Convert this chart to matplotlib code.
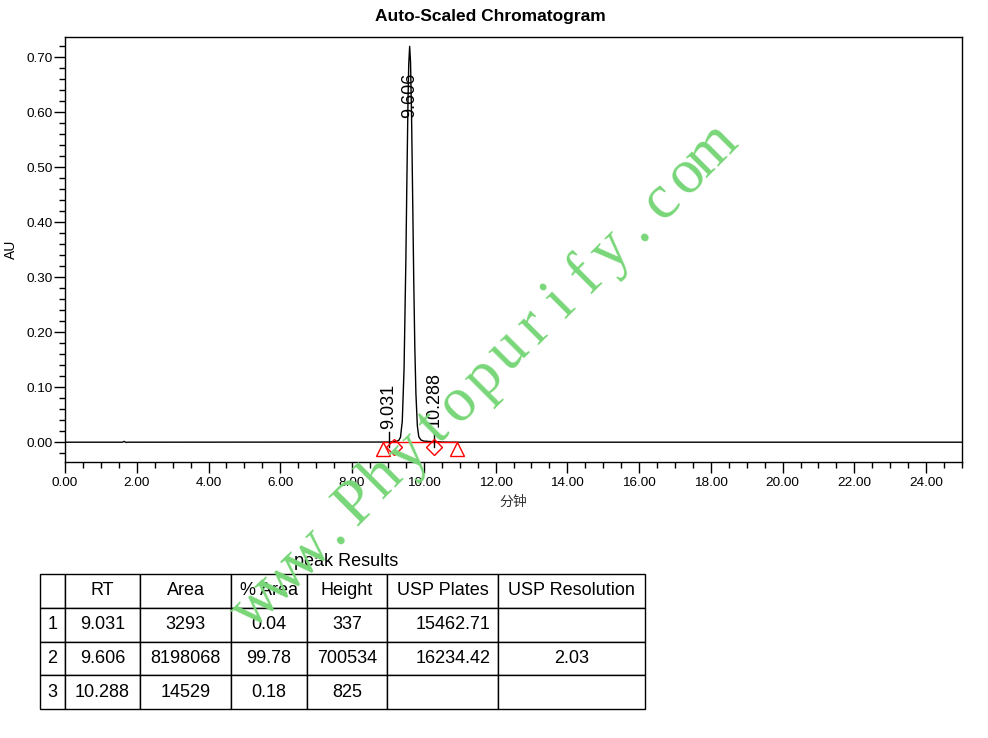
import math
import matplotlib
matplotlib.use("Agg")
import matplotlib.pyplot as plt
from matplotlib.ticker import MultipleLocator, FormatStrFormatter
from matplotlib.table import Table

plt.rcParams["font.family"] = ["Liberation Sans", "Noto Sans CJK SC", "DejaVu Sans"]

# Detector trace (minutes, AU)
time_min = [0.0, 1.60, 1.65, 1.70, 1.75, 9.00, 9.20, 9.30, 9.35, 9.40, 9.45, 9.50,
            9.53, 9.56, 9.58, 9.606, 9.63, 9.66, 9.69, 9.72, 9.75, 9.78, 9.82,
            9.86, 9.92, 10.00, 10.288, 10.60, 11.00, 25.0]
absorbance_au = [0.0, 0.0, 0.0015, -0.0004, 0.0, 0.0003, 0.001, 0.003, 0.009, 0.038,
                 0.134, 0.331, 0.483, 0.622, 0.687, 0.720, 0.692, 0.588, 0.442,
                 0.293, 0.171, 0.089, 0.030, 0.010, 0.004, 0.002, 0.0008, 0.0002,
                 0.0, 0.0]

# Integration events
baseline_start_end = [8.856, 10.92]
peak_boundaries = [9.18, 10.285]

# Peak annotations
peak_labels = ["9.031", "9.606", "10.288"]
peak_rt = [9.031, 9.606, 10.288]

# Peak results table
col_headers = ["", "RT", "Area", "% Area", "Height", "USP Plates", "USP Resolution"]
row_ids = ["1", "2", "3"]
rt_col = ["9.031", "9.606", "10.288"]
area_col = ["3293", "8198068", "14529"]
pct_area_col = ["0.04", "99.78", "0.18"]
height_col = ["337", "700534", "825"]
plates_col = ["15462.71", "16234.42", ""]
resolution_col = ["", "2.03", ""]

watermark = "www.Phytopurify.com"

W, H = 988, 738
fig = plt.figure(figsize=(W / 100, H / 100), dpi=100)

ax = fig.add_axes([65 / W, 1 - 462 / H, (962 - 65) / W, (462 - 37) / H])
ax.plot(time_min, absorbance_au, color="black", lw=1.0, zorder=3)

# integration baseline and markers
ax.plot(baseline_start_end, [0, 0], color="red", lw=1.0, zorder=4)
ax.plot(baseline_start_end, [-0.012] * 2, ls="none", marker="^", ms=9.4,
        mfc="none", mec="red", mew=1.0, zorder=5)
ax.plot(peak_boundaries, [-0.0085] * 2, ls="none", marker="D", ms=8.5,
        mfc="none", mec="red", mew=1.0, zorder=5)

# retention time labels
for lbl, rt in zip(peak_labels, peak_rt):
    if lbl == "9.606":
        ax.text(rt, 0.59, lbl, rotation=90, ha="center", va="bottom", fontsize=13, zorder=6)
    else:
        ax.plot([rt, rt], [-0.008, 0.0193], color="black", lw=1.0, zorder=4)
        ybot = 0.024 if lbl == "9.031" else 0.027
        ax.text(rt, ybot, lbl, rotation=90, ha="center", va="bottom", fontsize=13, zorder=6)

ax.set_xlim(0, 25)
ax.set_ylim(-0.036, 0.737)
ax.xaxis.set_major_locator(MultipleLocator(2))
ax.xaxis.set_minor_locator(MultipleLocator(0.5))
ax.yaxis.set_major_locator(MultipleLocator(0.1))
ax.yaxis.set_minor_locator(MultipleLocator(0.02))
ax.xaxis.set_major_formatter(FormatStrFormatter("%.2f"))
ax.yaxis.set_major_formatter(FormatStrFormatter("%.2f"))
ax.tick_params(which="major", direction="out", length=8, width=1, labelsize=9.7)
ax.tick_params(axis="y", which="major", pad=1)
ax.tick_params(axis="x", which="major", pad=3)
ax.tick_params(which="minor", direction="out", length=4, width=1)
for s in ax.spines.values():
    s.set_linewidth(1.0)

ax.set_xlabel("分钟", fontsize=10, color="#333333", labelpad=4)
ax.set_ylabel("AU", fontsize=10, labelpad=6)
fig.text(490 / W, 1 - 16 / H, "Auto-Scaled Chromatogram", ha="center", va="center",
         fontsize=12.5, fontweight="bold")

# results table
tax = fig.add_axes([40 / W, 1 - 709 / H, (645 - 40) / W, (709 - 574) / H])
tax.set_axis_off()
tax.set_xlim(0, 1)
tax.set_ylim(0, 1)
col_w = [25, 75, 91, 76, 80, 111, 147]
tot = float(sum(col_w))
fracs = [c / tot for c in col_w]
tbl = Table(tax, bbox=[0, 0, 1, 1])
columns = [row_ids, rt_col, area_col, pct_area_col, height_col, plates_col, resolution_col]
n_rows = 1 + len(row_ids)
for j, head in enumerate(col_headers):
    c = tbl.add_cell(0, j, width=fracs[j], height=1 / n_rows, text=head, loc="center")
    c.get_text().set_fontsize(13)
    c.set_linewidth(1.0)
for i in range(len(row_ids)):
    for j, col in enumerate(columns):
        loc = "right" if j == 5 else "center"
        c = tbl.add_cell(i + 1, j, width=fracs[j], height=1 / n_rows, text=col[i], loc=loc)
        c.get_text().set_fontsize(13)
        c.set_linewidth(1.0)
        if j == 5:
            c.PAD = 0.07
tbl.auto_set_font_size(False)
tax.add_table(tbl)
fig.text(346 / W, 1 - 561 / H, "peak Results", ha="center", va="center", fontsize=13)

# site watermark: evenly spaced serif letters along a 45 degree line
step = 35.75
ux, uy = math.cos(math.radians(45)), math.sin(math.radians(45))
x0, y0 = 343.3, 738 - 540.0   # slot of the first '.' in figure pixels (origin bottom-left)
for k, ch in enumerate(watermark):
    px = x0 + (k - 3) * step * ux
    py = y0 + (k - 3) * step * uy
    fig.text(px / W, py / H, ch, rotation=45, rotation_mode="anchor",
             ha="center", va="baseline", fontsize=45, family="Liberation Serif",
             color="#78d678", zorder=20)

fig.savefig("out.png", dpi=100)
